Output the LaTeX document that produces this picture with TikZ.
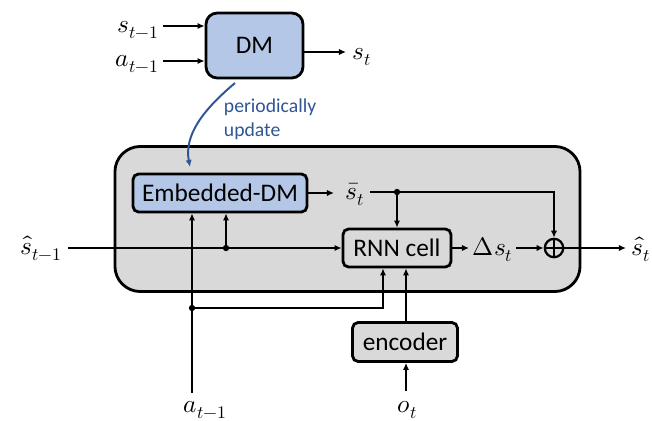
\documentclass[tikz,border=0pt]{standalone}
\usepackage{fontspec}
\usepackage{unicode-math}
\setmainfont{Carlito}
\setmathfont{Latin Modern Math}
\usetikzlibrary{arrows.meta}
\definecolor{dmblue}{RGB}{180,199,231}
\definecolor{boxgray}{RGB}{217,217,217}
\definecolor{linkblue}{RGB}{47,85,151}

\begin{document}
\begin{tikzpicture}[x=0.025cm,y=-0.025cm,line width=1.3pt,>={Latex[length=5pt,width=4.5pt]}]
  \tikzset{blk/.style={draw,line width=2pt,rounded corners=4pt,inner sep=0pt,font=\fontsize{18}{20}\selectfont},
    var/.style={inner sep=0pt,font=\fontsize{18}{20}\selectfont},
    jdot/.style={circle,fill,inner sep=0pt,minimum size=4.5pt}}
  \useasboundingbox (0,0) rectangle (652,421);
  % filter box and its blocks
  \node(filt)[draw,line width=2pt,fill=boxgray,rounded corners=18pt,minimum width=11.625cm,minimum height=3.625cm] at (347.5,219){};
  \node(dm)[blk,fill=dmblue,rounded corners=8pt,minimum width=2.425cm,minimum height=1.625cm] at (254.5,45.5){DM};
  \node(edm)[blk,fill=dmblue,minimum width=4.35cm,minimum height=0.95cm] at (220,193){Embedded-DM};
  \node(rnn)[blk,fill=boxgray,minimum width=2.7cm,minimum height=0.95cm] at (397,248){RNN cell};
  \node(enc)[blk,fill=boxgray,minimum width=2.625cm,minimum height=0.975cm] at (405,342){encoder};
  \node(sum)[circle,draw,line width=1.6pt,minimum size=0.46cm,inner sep=0pt] at (554,248){};
  \draw (sum.north)--(sum.south) (sum.west)--(sum.east);
  % variables
  \node(sprev)[var,anchor=base east] at (160,32){$s_{t-1}$};
  \node(aprev)[var,anchor=base east] at (160,66){$a_{t-1}$};
  \node(st)[var,anchor=base west] at (352,59){$s_t$};
  \node(sbar)[var,anchor=base west] at (345,199){$\bar{s}_t$};
  \node(shprev)[var,anchor=base east] at (63,254){$\hat{s}_{t-1}$};
  \node(ds)[var,anchor=base west] at (472,255){$\Delta s_t$};
  \node(sh)[var,anchor=base west] at (631,255){$\hat{s}_t$};
  \node(abot)[var,anchor=base west] at (183,412){$a_{t-1}$};
  \node(ot)[var,anchor=base west] at (397,412){$o_t$};
  \node(upd)[anchor=north west,align=left,inner sep=0pt,text=linkblue,font=\fontsize{14}{17}\selectfont] at (223,98){periodically\\update};
  % connector ends
  \coordinate(sin) at (163,26);
  \coordinate(ain) at (163,61);
  \coordinate(sout) at (346,52);
  \coordinate(sbo) at (370,192);
  \coordinate(shin) at (68,248);
  \coordinate(dso) at (516,248);
  \coordinate(shout) at (626,248);
  \coordinate(abin) at (192,393);
  \coordinate(otin) at (406,391);
  \coordinate(jh) at (226,248);
  \coordinate(ja) at (192,308);
  % DM
  \draw[->] (sin) -- (sin -| dm.west);
  \draw[->] (ain) -- (ain -| dm.west);
  \draw[->] (sout -| dm.east) -- (sout);
  \draw[->,linkblue,line width=1.4pt] (235,83) .. controls (203,110) and (184,135) .. (190,167);
  % inside the filter
  \draw[->] (edm.east) -- (edm.east -| 334,0);
  \draw[->] (sbo) -| (sum.north);
  \draw[->] (sbo -| rnn.north) -- (rnn.north);
  \node[jdot] at (sbo -| rnn.north){};
  \draw[->] (shin) -- (rnn.west);
  \draw[->] (jh) -- (jh |- edm.south);
  \node[jdot] at (jh){};
  \draw[->] (rnn.east) -- (rnn.east -| 469,0);
  \draw[->] (dso) -- (sum.west);
  \draw[->] (sum.east) -- (shout);
  % action and observation inputs
  \draw[->] (abin) -- (abin |- edm.south);
  \draw[->] (ja) -| (383,0 |- rnn.south);
  \node[jdot] at (ja){};
  \draw[->] (otin) -- (otin |- enc.south);
  \draw[->] (enc.north -| otin) -- (otin |- rnn.south);
\end{tikzpicture}
\end{document}
